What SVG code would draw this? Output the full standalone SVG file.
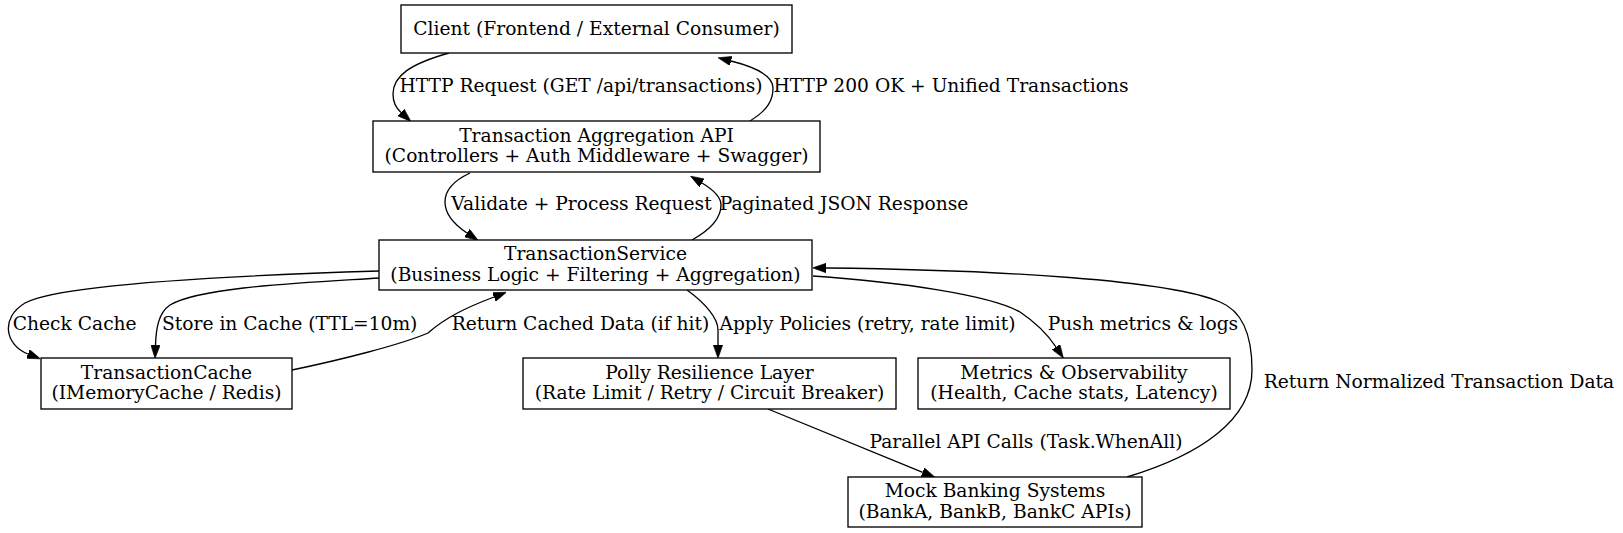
<svg xmlns="http://www.w3.org/2000/svg" width="1623" height="533" viewBox="0 0 1623 533">
<style>
text{font-family:"DejaVu Serif","Liberation Serif",serif;font-size:18.67px;fill:#000}
.n rect{fill:#fff;stroke:#000;stroke-width:1.33}
.n text{text-anchor:middle}
.e path{fill:none;stroke:#000;stroke-width:1.33;marker-end:url(#ah)}
.l text{text-anchor:middle}
</style>
<defs>
<marker id="ah" viewBox="0 0 10 7" refX="0" refY="3.5" markerUnits="userSpaceOnUse" markerWidth="13.3" markerHeight="9.3" orient="auto">
<path d="M0,0 L10,3.5 L0,7 z" fill="#000" stroke="#000" stroke-width="0.5"/>
</marker>
</defs>
<rect width="1623" height="533" fill="#fff"/>
<g id="connectors" class="e">
<path d="M449,53 C410,64 393,76 393,94 C393,102 396,108 401,112.5"/>
<path d="M750,121 C768,110 773,100 773,88 C773,75 755,67 731,61"/>
<path d="M470,173 C455,180 445,190 445,202 C445,215 455,225 467,233"/>
<path d="M692,240 C710,230 721,218 721,205 C721,196 712,189 702,183"/>
<path d="M379,271 C250,275 60,283 25,303 C0,318 5,345 28,354"/>
<path d="M379,278 C300,283 200,287 170,305 C158,313 156,330 155.5,345"/>
<path d="M292,370 C340,360 400,345 428,333 C445,318 465,308 494,297"/>
<path d="M687,290 C705,303 718,318 718,330 L718,345"/>
<path d="M813,276 C900,282 990,295 1020,312 C1035,322 1048,335 1056,347"/>
<path d="M1127,477 C1200,455 1252,420 1252,370 C1252,330 1240,310 1220,302 C1170,280 1000,270 826,268"/>
<path d="M768,409 L922.7,472.3"/>
</g>
<g id="labels" class="l">
<text x="581" y="91.7">HTTP Request (GET /api/transactions)</text>
<text x="951" y="91.7">HTTP 200 OK + Unified Transactions</text>
<text x="581.5" y="210">Validate + Process Request</text>
<text x="844" y="210">Paginated JSON Response</text>
<text x="74.7" y="330">Check Cache</text>
<text x="289.7" y="330">Store in Cache (TTL=10m)</text>
<text x="580.5" y="330">Return Cached Data (if hit)</text>
<text x="867.5" y="330">Apply Policies (retry, rate limit)</text>
<text x="1143" y="330">Push metrics &amp; logs</text>
<text x="1439" y="388">Return Normalized Transaction Data</text>
<text x="1026" y="448">Parallel API Calls (Task.WhenAll)</text>
</g>
<g id="client" class="n">
<rect x="401" y="5" width="391" height="48"/>
<text x="596.5" y="34.5">Client (Frontend / External Consumer)</text>
</g>
<g id="api" class="n">
<rect x="373" y="121" width="447" height="51"/>
<text x="596.5" y="141.5">Transaction Aggregation API</text>
<text x="596.5" y="162">(Controllers + Auth Middleware + Swagger)</text>
</g>
<g id="service" class="n">
<rect x="379" y="240" width="433" height="50"/>
<text x="595.5" y="260">TransactionService</text>
<text x="595.5" y="280.5">(Business Logic + Filtering + Aggregation)</text>
</g>
<g id="cache" class="n">
<rect x="41" y="358" width="251" height="51"/>
<text x="166.5" y="378.5">TransactionCache</text>
<text x="166.5" y="399">(IMemoryCache / Redis)</text>
</g>
<g id="polly" class="n">
<rect x="523" y="358" width="373" height="51"/>
<text x="709.5" y="378.5">Polly Resilience Layer</text>
<text x="709.5" y="399">(Rate Limit / Retry / Circuit Breaker)</text>
</g>
<g id="metrics" class="n">
<rect x="918" y="358" width="312" height="51"/>
<text x="1074" y="378.5">Metrics &amp; Observability</text>
<text x="1074" y="399">(Health, Cache stats, Latency)</text>
</g>
<g id="banks" class="n">
<rect x="848" y="477" width="294" height="50"/>
<text x="995" y="497">Mock Banking Systems</text>
<text x="995" y="517.5">(BankA, BankB, BankC APIs)</text>
</g>
</svg>
